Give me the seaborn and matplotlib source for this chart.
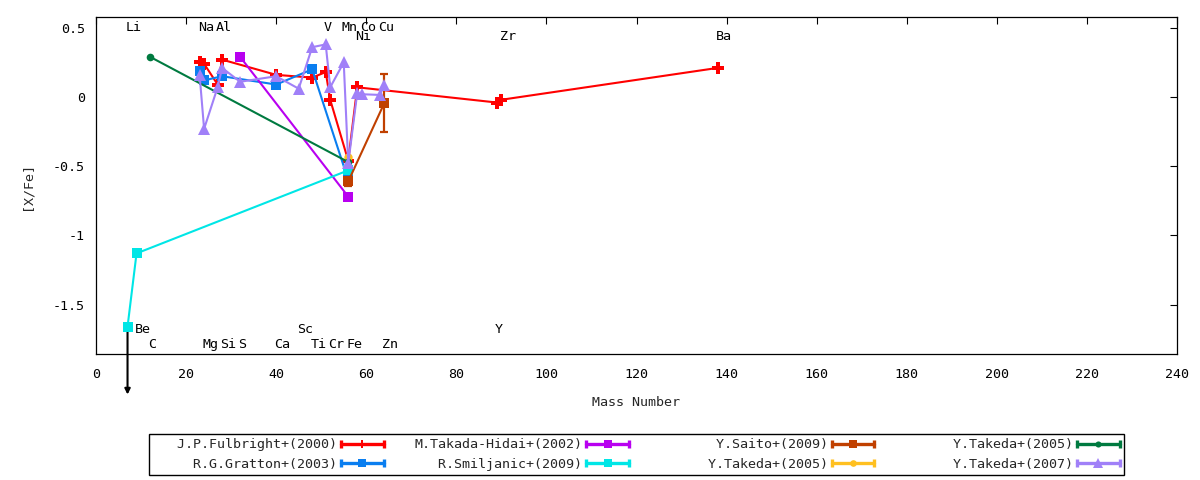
import matplotlib
matplotlib.use("Agg")
import matplotlib.pyplot as plt
from matplotlib.lines import Line2D
from matplotlib.legend_handler import HandlerBase
import seaborn as sns
import pandas as pd

# ---------------- data ----------------
fulbright_mass = [23, 24, 27, 28, 40, 48, 51, 52, 56, 58, 89, 90, 138]
fulbright_val = [0.25, 0.24, 0.09, 0.27, 0.16, 0.14, 0.18, -0.02, -0.46, 0.07, -0.04, -0.02, 0.21]

gratton_mass = [23, 24, 28, 40, 48, 56]
gratton_val = [0.19, 0.12, 0.15, 0.09, 0.20, -0.60]

takada_mass = [32, 56]
takada_val = [0.29, -0.72]

smiljanic_mass = [7, 9, 56]
smiljanic_val = [-1.66, -1.13, -0.53]

saito_mass = [56, 64]
saito_val = [-0.61, -0.045]
saito_err = [0.03, 0.21]

takeda05a_mass = [56]
takeda05a_val = [-0.43]

takeda05b_mass = [12, 56]
takeda05b_val = [0.29, -0.47]

takeda07_mass = [23, 24, 27, 28, 32, 40, 45, 48, 51, 52, 55, 56, 58, 59, 63, 64]
takeda07_val = [0.16, -0.23, 0.07, 0.21, 0.11, 0.15, 0.06, 0.36, 0.38, 0.07, 0.25, -0.48,
                0.03, 0.02, 0.015, 0.09]

series_names = ["J.P.Fulbright+(2000)", "R.G.Gratton+(2003)", "M.Takada-Hidai+(2002)",
                "R.Smiljanic+(2009)", "Y.Saito+(2009)", "Y.Takeda+(2005)", "Y.Takeda+(2005)",
                "Y.Takeda+(2007)"]

# upper limit (Smiljanic Li)
limit_mass = 7
limit_from = -1.66
limit_to = -2.15

# element labels
labels_top = ["Li", "Na", "Al", "V", "Mn", "Co", "Cu"]
labels_top_mass = [7, 23, 27, 51, 55, 59, 63]
labels_top2 = ["Ni", "Zr", "Ba"]
labels_top2_mass = [58, 90, 138]
labels_bot = ["Be", "Sc", "Y"]
labels_bot_mass = [9, 45, 89]
labels_bot2 = ["C", "Mg", "Si", "S", "Ca", "Ti", "Cr", "Fe", "Zn"]
labels_bot2_mass = [12, 24, 28, 32, 40, 48, 52, 56, 64]

xticks = [0, 20, 40, 60, 80, 100, 120, 140, 160, 180, 200, 220, 240]
yticks = [-1.5, -1, -0.5, 0, 0.5]
ytick_labels = ["-1.5", "-1", "-0.5", "0", "0.5"]

# ---------------- style ----------------
sns.set_style("white")
plt.rcParams["font.family"] = ["DejaVu Sans Mono"]
plt.rcParams["font.size"] = 9.6
plt.rcParams["axes.unicode_minus"] = False

fig = plt.figure(figsize=(12, 4.8), dpi=100)
ax = fig.add_axes([96 / 1200, 1 - 354 / 480, (1177 - 96) / 1200, (354 - 17) / 480])

colors = ["#ff0000", "#0a7ef0", "#b800f0", "#00e6e6", "#c04000", "#ffc020", "#007a40", "#a080f8"]
markers = ["P", "s", "s", "s", "s", "o", "o", "^"]
msizes = [8, 7.5, 7.4, 7.4, 7.4, 6, 5.5, 9]
all_mass = [fulbright_mass, gratton_mass, takada_mass, smiljanic_mass, saito_mass,
            takeda05a_mass, takeda05b_mass, takeda07_mass]
all_val = [fulbright_val, gratton_val, takada_val, smiljanic_val, saito_val,
           takeda05a_val, takeda05b_val, takeda07_val]

handles = []
for i, (m, v) in enumerate(zip(all_mass, all_val)):
    df = pd.DataFrame({"mass": m, "val": v})
    sns.lineplot(data=df, x="mass", y="val", sort=False, estimator=None, ax=ax,
                 color=colors[i], lw=1.5, marker=markers[i], markersize=msizes[i],
                 markeredgecolor=colors[i], markeredgewidth=0, zorder=3 + i)
    ln = ax.get_lines()[-1]
    handles.append(ln)
    if i == 4:
        ax.errorbar(saito_mass, saito_val, yerr=saito_err, fmt="none", ecolor=colors[i],
                    elinewidth=1.6, capsize=3, capthick=1.6, zorder=3 + i)

ax.annotate("", xy=(limit_mass, limit_to), xytext=(limit_mass, limit_from),
            arrowprops=dict(arrowstyle="-|>", color="black", lw=1.5, mutation_scale=8,
                            shrinkA=0, shrinkB=0),
            annotation_clip=False, zorder=2)

for names, masses, yv in [(labels_top, labels_top_mass, 0.505),
                          (labels_top2, labels_top2_mass, 0.434),
                          (labels_bot, labels_bot_mass, -1.683),
                          (labels_bot2, labels_bot2_mass, -1.785)]:
    for n, mm in zip(names, masses):
        ax.text(mm - 0.4, yv, n, ha="left", va="center", fontsize=9.6, color="black", zorder=20)

ax.set_xlim(0, 240)
ax.set_ylim(-1.857, 0.578)
ax.set_xticks(xticks)
ax.set_xticklabels([str(t) for t in xticks])
ax.set_yticks(yticks)
ax.set_yticklabels(ytick_labels)
ax.tick_params(direction="in", length=5, width=0.8, top=True, right=True, colors="black",
               labelsize=9.6)
ax.tick_params(axis="x", pad=10)
ax.tick_params(axis="y", pad=8)
for s in ax.spines.values():
    s.set_color("black")
    s.set_linewidth(0.9)
ax.set_xlabel("Mass Number", fontsize=9.6, labelpad=11)
ax.set_ylabel("[X/Fe]", fontsize=9.6, labelpad=14)
ax.grid(False)


class CapHandler(HandlerBase):
    def create_artists(self, legend, orig, xdescent, ydescent, width, height, fontsize, trans):
        y = height / 2 - ydescent
        x0, x1 = -xdescent, width - xdescent
        c = orig.get_color()
        line = Line2D([x0, x1], [y, y], color=c, lw=2.4)
        caps = Line2D([x0, x1], [y, y], ls="none", marker="|", ms=6, mew=2.4, color=c)
        mid = Line2D([(x0 + x1) / 2], [y], ls="none", marker=orig.get_marker(),
                     ms=orig.get_markersize() * 0.8, color=c, mec=c, mew=0)
        for a in (line, caps, mid):
            a.set_transform(trans)
        return [line, caps, mid]


leg_labels = [n.rjust(23) if k < 2 else n.rjust(21) for k, n in enumerate(series_names)]
leg = fig.legend(handles, leg_labels, loc="center", bbox_to_anchor=(0.5304, 0.0531), ncol=4,
                 markerfirst=False, frameon=True, fancybox=False, edgecolor="black",
                 framealpha=1, borderpad=0.3, labelspacing=0.5, handlelength=3.2,
                 handletextpad=0.3, columnspacing=2.3, fontsize=9.6,
                 handler_map={Line2D: CapHandler()})
leg.get_frame().set_linewidth(1.0)

fig.savefig("out.png", dpi=100)
